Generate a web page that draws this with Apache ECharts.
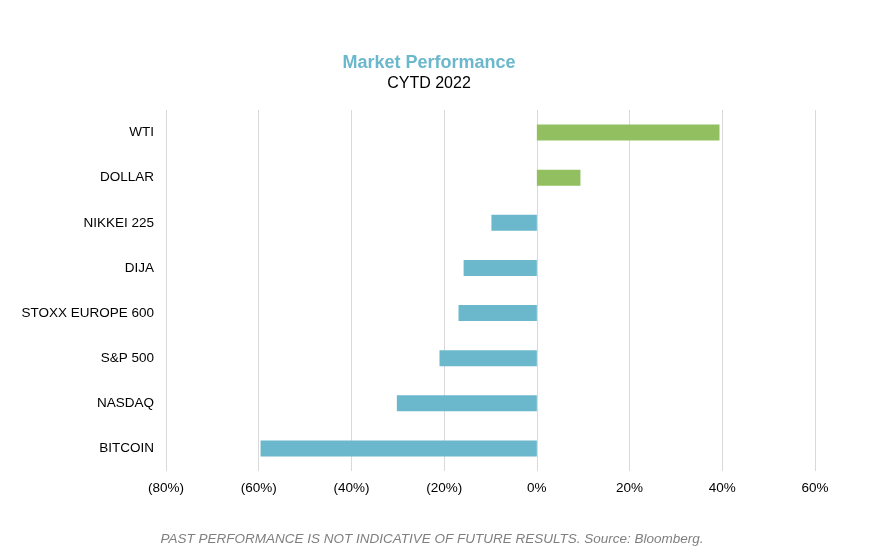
<!DOCTYPE html>
<html>
<head>
<meta charset="utf-8">
<script src="https://cdn.jsdelivr.net/npm/echarts@6/dist/echarts.min.js"></script>
<style>
html,body{margin:0;padding:0;background:#fff;}
#chart{width:880px;height:558px;}
</style>
</head>
<body>
<div id="chart"></div>
<script>
const categories = ["BITCOIN", "NASDAQ", "S&P 500", "STOXX EUROPE 600", "DIJA", "NIKKEI 225", "DOLLAR", "WTI"];
const values = [-59.6, -30.2, -21.0, -16.9, -15.8, -9.8, 9.4, 39.4];
const tickValues = [-80, -60, -40, -20, 0, 20, 40, 60];
const positiveColor = "#92bf5f";
const negativeColor = "#6bb8cc";

function fmt(v) {
  if (v < 0) return "(" + Math.abs(v) + "%)";
  return v + "%";
}

const FF = "Liberation Sans, Arial, sans-serif";
const chart = echarts.init(document.getElementById("chart"), null, {renderer: "canvas"});
chart.setOption({
  backgroundColor: "#ffffff",
  animation: false,
  textStyle: {fontFamily: FF},
  title: [
    {
      text: "Market Performance",
      left: 424, top: 49, textAlign: "center",
      textStyle: {color: "#6bb8cc", fontSize: 18, fontWeight: "bold", fontFamily: FF}
    },
    {
      text: "CYTD 2022",
      left: 424, top: 71, textAlign: "center",
      textStyle: {color: "#000000", fontSize: 16, fontWeight: "normal", fontFamily: FF}
    },
    {
      text: "PAST PERFORMANCE IS NOT INDICATIVE OF FUTURE RESULTS. Source: Bloomberg.",
      left: 427, top: 527, textAlign: "center",
      textStyle: {color: "#7f7f7f", fontSize: 13.5, fontStyle: "italic", fontWeight: "normal", fontFamily: FF}
    }
  ],
  grid: {left: 166, right: 65, top: 110, bottom: 87, containLabel: false},
  xAxis: {
    type: "value",
    min: -80, max: 60, interval: 20,
    axisLine: {show: false},
    axisTick: {show: false},
    splitLine: {show: true, lineStyle: {color: "#d9d9d9", width: 1}},
    axisLabel: {
      color: "#000", fontSize: 13.5, margin: 10,
      formatter: fmt,
      fontFamily: FF
    }
  },
  yAxis: {
    type: "category",
    data: categories,
    axisLine: {show: false},
    axisTick: {show: false},
    axisLabel: {color: "#000", fontSize: 13.5, margin: 12, fontFamily: FF}
  },
  series: [{
    type: "bar",
    barWidth: 16,
    data: values.map(v => ({value: v, itemStyle: {color: v >= 0 ? positiveColor : negativeColor}})),
    silent: true
  }]
});
</script>
</body>
</html>
